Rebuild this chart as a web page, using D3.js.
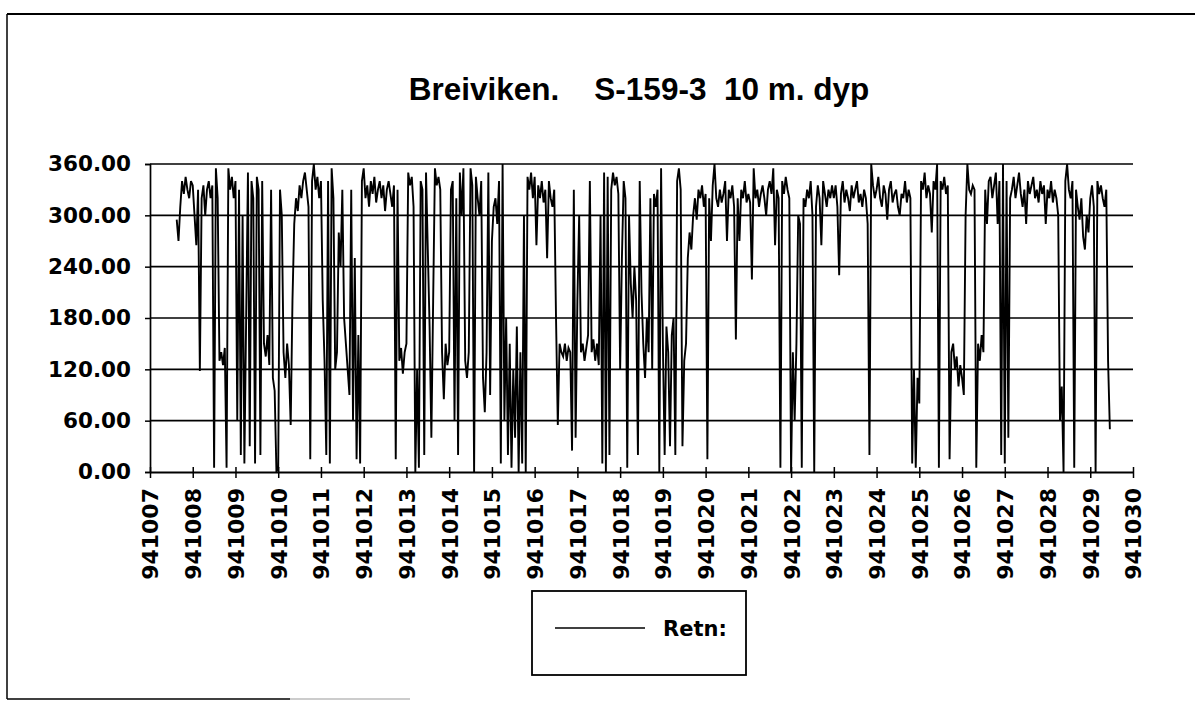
<!DOCTYPE html>
<html>
<head>
<meta charset="utf-8">
<script src="https://cdn.jsdelivr.net/npm/d3@7"></script>
<style>
  html, body { margin: 0; padding: 0; background: #fff; }
  svg { display: block; }
</style>
</head>
<body>
<svg id="chart" width="1195" height="701"></svg>
<script>
// ---- data ----
const chartTitle = "Breiviken.    S-159-3  10 m. dyp";
const seriesName = "Retn:";
const dateLabels = ["941007","941008","941009","941010","941011","941012","941013","941014",
  "941015","941016","941017","941018","941019","941020","941021","941022","941023","941024",
  "941025","941026","941027","941028","941029","941030"];
const yTicks = [0, 60, 120, 180, 240, 300, 360];
const startDay = 0.625;      // first sample: 941007 15:00
const stepDays = 1 / 24;     // hourly samples
const retn = [
  // 941007
  295,270,310,340,325,345,330,320,340,
  // 941008
  335,300,265,330,118,320,335,300,330,340,320,335,5,355,320,130,140,125,145,5,355,330,345,320,
  // 941009
  340,60,330,20,300,10,180,350,30,340,320,10,345,330,20,340,150,135,160,125,330,110,95,0,
  // 941010
  5,330,300,140,110,150,125,55,200,290,320,305,335,320,340,350,330,310,15,340,360,330,345,320,
  // 941011
  340,200,130,20,340,10,355,320,120,140,280,240,330,180,150,120,90,330,60,250,15,160,10,340,
  // 941012
  355,320,335,310,340,325,345,315,330,340,320,335,305,330,340,325,310,335,15,330,130,145,115,140,
  // 941013
  150,350,335,345,310,0,120,5,340,330,20,350,260,170,40,200,355,335,345,330,140,85,150,125,
  // 941014
  140,330,340,60,320,20,350,300,355,130,110,140,355,335,0,345,320,300,340,110,70,140,350,90,
  // 941015
  270,310,320,290,340,10,360,60,180,20,150,5,120,40,170,0,140,10,300,0,345,330,350,320,
  // 941016
  345,265,335,320,340,315,330,250,340,320,310,330,180,55,150,140,135,150,130,145,140,25,330,40,
  // 941017
  200,300,140,150,130,145,160,340,140,155,130,150,125,300,10,350,0,345,20,330,350,335,345,325,
  // 941018
  120,250,340,320,5,300,220,180,240,200,20,340,210,150,110,180,140,320,120,325,310,330,0,355,
  // 941019
  150,20,170,140,30,160,180,20,340,355,330,30,130,150,250,280,260,300,320,295,330,320,335,310,
  // 941020
  325,15,320,270,335,360,320,310,330,315,325,340,270,330,320,335,310,155,320,270,330,320,340,315,
  // 941021
  325,315,225,355,320,330,310,325,335,320,300,330,340,325,355,265,330,320,5,340,325,345,330,320,
  // 941022
  0,140,60,150,300,290,5,320,310,330,320,340,300,0,310,335,320,265,340,325,310,330,320,335,
  // 941023
  320,335,310,230,325,340,315,330,320,305,335,320,330,340,315,325,310,330,320,290,20,360,335,320,
  // 941024
  330,345,320,310,335,325,295,330,340,315,325,330,310,300,325,320,340,315,330,320,10,120,5,110,
  // 941025
  80,340,330,350,320,335,325,280,340,330,360,5,340,330,345,325,335,15,140,150,120,135,100,125,
  // 941026
  110,90,300,360,330,325,335,330,5,150,130,160,140,330,290,340,345,320,335,350,290,340,20,360,
  // 941027
  10,340,40,320,330,345,320,335,350,325,310,330,290,340,325,335,345,320,330,315,340,325,335,290,
  // 941028
  330,320,340,315,330,320,300,60,100,0,340,360,330,320,340,5,330,310,295,320,275,260,300,280,
  // 941029
  320,335,310,0,340,325,335,320,310,330,130,50
];

// ---- drawing ----
const svg = d3.select("#chart");
const W = 1195, H = 701;
const plot = { left: 150, right: 1133, top: 164, bottom: 472 };
const labelFont = "'DejaVu Sans', sans-serif";

// outer frame (scanned page: left, top, partial bottom)
svg.append("line").attr("x1", 7).attr("x2", 7).attr("y1", 14).attr("y2", 699)
  .attr("stroke", "#000").attr("stroke-width", 1.5);
svg.append("line").attr("x1", 7).attr("x2", W).attr("y1", 14).attr("y2", 14)
  .attr("stroke", "#000").attr("stroke-width", 1.8);
svg.append("line").attr("x1", 7).attr("x2", 290).attr("y1", 699).attr("y2", 699)
  .attr("stroke", "#000").attr("stroke-width", 1.5);
svg.append("line").attr("x1", 290).attr("x2", 410).attr("y1", 699).attr("y2", 699)
  .attr("stroke", "#999").attr("stroke-width", 1);

// title
svg.append("text")
  .attr("x", 639).attr("y", 100)
  .attr("text-anchor", "middle")
  .attr("font-family", "'Liberation Sans', Arial, sans-serif")
  .attr("font-weight", "bold")
  .attr("font-size", 31.5)
  .style("white-space", "pre")
  .attr("xml:space", "preserve")
  .text(chartTitle);

const x = d3.scaleLinear().domain([0, dateLabels.length - 1]).range([plot.left, plot.right]);
const y = d3.scaleLinear().domain([0, 360]).range([plot.bottom, plot.top]);

// horizontal gridlines
svg.append("g").selectAll("line").data(yTicks.filter(d => d > 0)).join("line")
  .attr("x1", plot.left).attr("x2", plot.right)
  .attr("y1", d => y(d)).attr("y2", d => y(d))
  .attr("stroke", "#000").attr("stroke-width", 1.7);

// y axis
const yAxis = d3.axisLeft(y).tickValues(yTicks).tickFormat(d3.format(".2f")).tickSize(5).tickPadding(14);
const gy = svg.append("g").attr("transform", `translate(${plot.left},0)`).call(yAxis);
gy.select(".domain").attr("stroke", "#000").attr("stroke-width", 1.7);
gy.selectAll(".tick line").attr("stroke", "#000").attr("stroke-width", 1.5);
gy.selectAll(".tick text")
  .attr("font-family", labelFont).attr("font-weight", "bold").attr("font-size", 21.5).attr("fill", "#000");

// x axis (ticks cross the axis line)
const xAxis = d3.axisBottom(x).tickValues(d3.range(dateLabels.length))
  .tickFormat(i => dateLabels[i]).tickSizeInner(6).tickSizeOuter(0).tickPadding(0);
const gx = svg.append("g").attr("transform", `translate(0,${plot.bottom})`).call(xAxis);
gx.select(".domain").attr("stroke", "#000").attr("stroke-width", 2);
gx.selectAll(".tick line").attr("y1", -5).attr("y2", 6).attr("stroke", "#000").attr("stroke-width", 1.5);
gx.selectAll(".tick text")
  .attr("font-family", labelFont).attr("font-weight", "bold").attr("font-size", 22).attr("fill", "#000")
  .attr("transform", "rotate(-90)")
  .attr("text-anchor", "end")
  .attr("x", -16).attr("y", 0).attr("dy", "0.36em");

// series line
const line = d3.line()
  .x((d, i) => x(startDay + i * stepDays))
  .y(d => y(d));
svg.append("path").datum(retn)
  .attr("d", line)
  .attr("fill", "none")
  .attr("stroke", "#000")
  .attr("stroke-width", 1.9)
  .attr("stroke-linejoin", "miter");

// legend
const lg = svg.append("g");
lg.append("rect").attr("x", 532).attr("y", 591).attr("width", 214).attr("height", 84)
  .attr("fill", "#fff").attr("stroke", "#000").attr("stroke-width", 1.8);
lg.append("line").attr("x1", 555).attr("x2", 645).attr("y1", 628).attr("y2", 628)
  .attr("stroke", "#000").attr("stroke-width", 1.6);
lg.append("text").attr("x", 663).attr("y", 636)
  .attr("font-family", labelFont).attr("font-weight", "bold").attr("font-size", 21)
  .text(seriesName);
</script>
</body>
</html>
